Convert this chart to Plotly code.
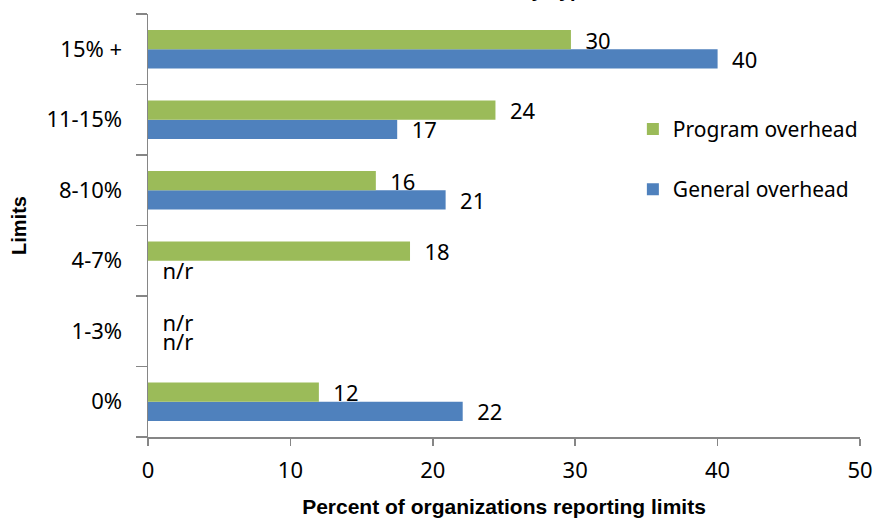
import plotly.graph_objects as go

categories = ["0%", "1-3%", "4-7%", "8-10%", "11-15%", "15% +"]
general_values = [22.1, 0, 0, 20.9, 17.5, 40.0]
general_labels = ["22", "n/r", "n/r", "21", "17", "40"]
program_values = [12.0, 0, 18.4, 16.0, 24.4, 29.7]
program_labels = ["12", "n/r", "18", "16", "24", "30"]
x_ticks = [0, 10, 20, 30, 40, 50]

GREEN = "#9BBB59"
BLUE = "#4F81BD"
AXIS = "#868686"
NB = "\u00a0\u00a0"
TXT_FONT = dict(family="Noto Sans, Open Sans, sans-serif", size=22, color="#000000")
BOLD_FONT = dict(family="Liberation Sans, Arial, sans-serif", size=20, color="#000000")

fig = go.Figure()
fig.add_trace(go.Bar(
    y=categories, x=general_values, orientation="h", name="General overhead",
    marker=dict(color=BLUE, line=dict(width=0)),
    text=[NB + t for t in general_labels], textposition="outside",
    textfont=TXT_FONT, cliponaxis=False, constraintext="none",
    legendgroup="g", legendrank=2, hoverinfo="skip",
))
fig.add_trace(go.Bar(
    y=categories, x=program_values, orientation="h", name="Program overhead",
    marker=dict(color=GREEN, line=dict(width=0)),
    text=[NB + t for t in program_labels], textposition="outside",
    textfont=TXT_FONT, cliponaxis=False, constraintext="none",
    legendgroup="p", legendrank=1, hoverinfo="skip",
))

fig.update_layout(
    width=888, height=518,
    margin=dict(l=148, r=28, t=14, b=81, autoexpand=False),
    paper_bgcolor="white", plot_bgcolor="white",
    barmode="group", bargap=0.455, bargroupgap=0,
    font=TXT_FONT,
    showlegend=True,
    legend=dict(
        x=0.681, y=0.776, xanchor="left", yanchor="top",
        traceorder="grouped", tracegroupgap=30,
        font=dict(family="Noto Sans, Open Sans, sans-serif", size=21, color="#000000"),
        bgcolor="rgba(0,0,0,0)", itemwidth=30,
    ),
    xaxis=dict(
        range=[0, 50], tickvals=x_ticks, ticktext=[str(v) for v in x_ticks],
        showline=True, linecolor=AXIS, linewidth=1.5,
        ticks="outside", ticklen=7, tickcolor=AXIS, tickwidth=1.5,
        showgrid=False, zeroline=False, automargin=False,
        ticklabelstandoff=6,
        tickfont=TXT_FONT,
        title=dict(text="<b>Percent of organizations reporting limits</b>",
                   font=dict(family="Liberation Sans, Arial, sans-serif", size=21, color="#000000"),
                   standoff=16),
    ),
    yaxis=dict(
        categoryorder="array", categoryarray=categories,
        showline=True, linecolor=AXIS, linewidth=1.5,
        ticks="outside", ticklen=11, tickcolor=AXIS, tickwidth=1.5,
        tickson="boundaries",
        showgrid=False, zeroline=False, automargin=False,
        ticklabelstandoff=20,
        tickfont=TXT_FONT,
        title=dict(text="<b>Limits</b>", font=BOLD_FONT, standoff=14),
    ),
    annotations=[dict(
        text="<b>Overhead Limits by Types</b>", xref="paper", yref="paper",
        x=0.645, y=1.026, xanchor="right", yanchor="bottom", showarrow=False,
        font=dict(family="Liberation Sans, Arial, sans-serif", size=20, color="#000000"),
    )],
)

fig.write_html(
    "out.html",
    config={"displayModeBar": False, "staticPlot": True},
    post_script="document.body.style.margin='0';document.body.style.padding='0';document.body.style.overflow='hidden';",
)
